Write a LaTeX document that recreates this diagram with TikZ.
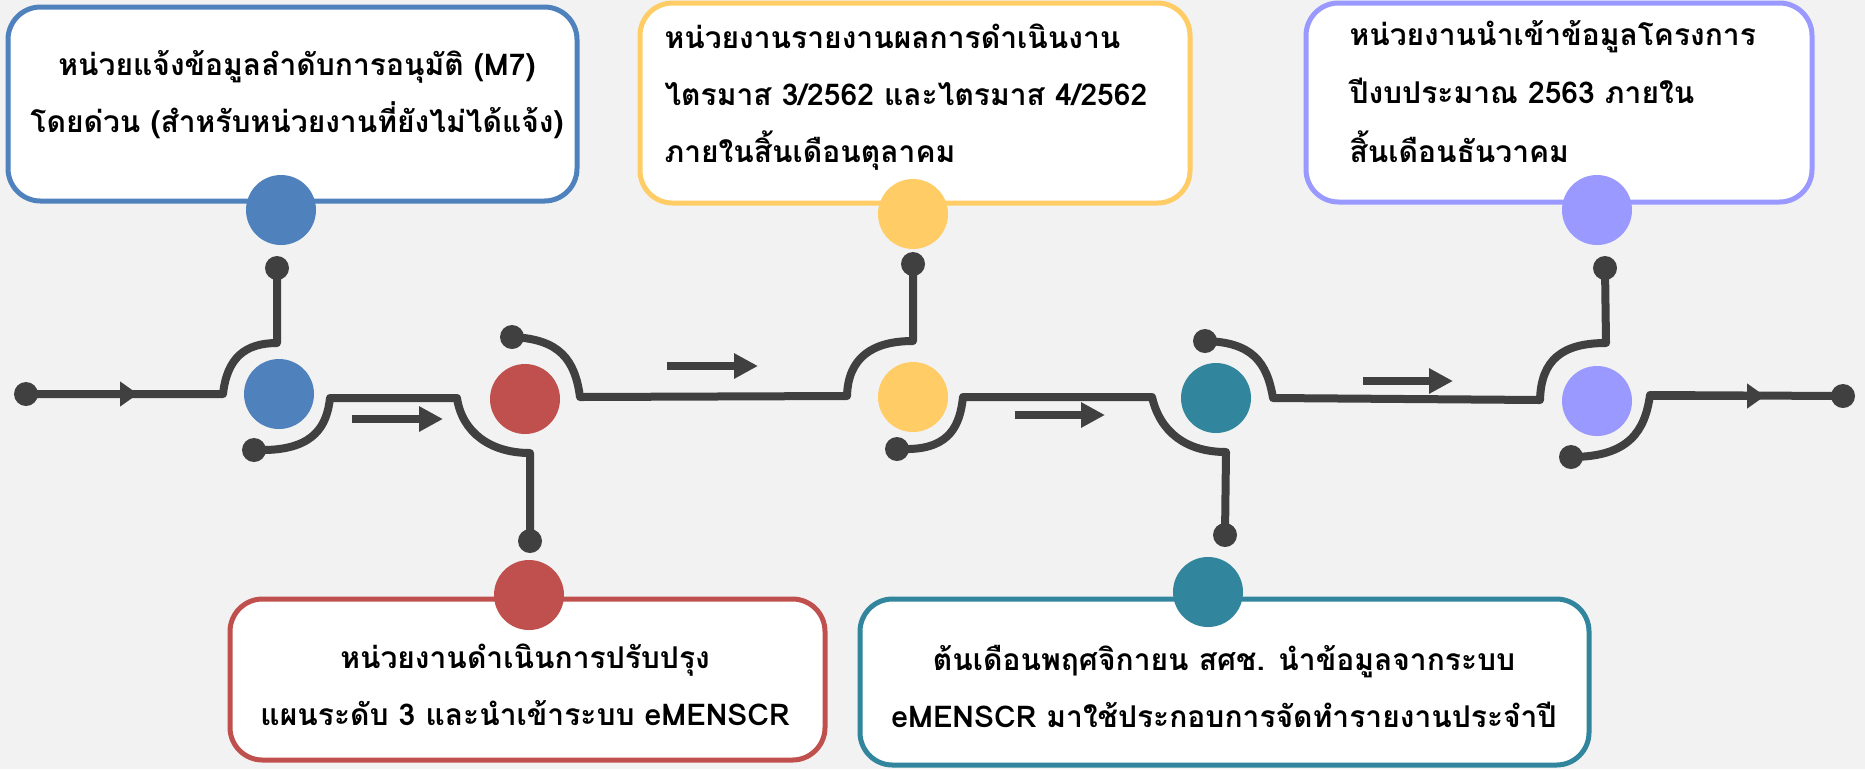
\documentclass[tikz,border=0pt]{standalone}
\usepackage{fontspec}
\newfontfamily\thaifont[Script=Thai]{Loma}
\usetikzlibrary{arrows.meta}
\definecolor{bgc}{HTML}{F2F2F2}
\definecolor{cblue}{HTML}{4F81BD}
\definecolor{cred}{HTML}{C0504D}
\definecolor{cyellow}{HTML}{FFCC66}
\definecolor{cteal}{HTML}{31859C}
\definecolor{cpurple}{HTML}{9999FF}
\definecolor{dark}{HTML}{404040}
\begin{document}
\begin{tikzpicture}[x=0.4pt,y=-0.4pt,
  track/.style={draw=dark,line width=3.2pt,line join=round},
  dotn/.style={circle,fill=dark,inner sep=0pt,minimum size=9.6pt},
  bign/.style={circle,inner sep=0pt,minimum size=28pt},
  boxs/.style={line width=2pt,fill=white,rounded corners=13pt},
  txt/.style={font=\thaifont\bfseries\fontsize{12pt}{14pt}\selectfont,inner sep=0pt,anchor=base},
  ltxt/.style={txt,anchor=base west},
  headtip/.style={-{Triangle[length=7.2pt,width=9.6pt]}},
  bigtip/.style={-{Triangle[length=9.6pt,width=9.6pt]}}]
\useasboundingbox (0,0) rectangle (1865,769);
\fill[bgc] (0,0) rectangle (1865,769);
% boxes
\draw[boxs,draw=cblue] (8,7) rectangle (577,201);
\draw[boxs,draw=cyellow] (640,3) rectangle (1190,203);
\draw[boxs,draw=cpurple] (1306,3) rectangle (1812,202);
\draw[boxs,draw=cred] (230,599) rectangle (825,760);
\draw[boxs,draw=cteal] (860,599) rectangle (1589,765);
% texts
\node[txt] (t1) at (297,75) {หน่วยแจ้งข้อมูลลำดับการอนุมัติ (M7)};
\node[txt] (t2) at (297,132) {โดยด่วน (สำหรับหน่วยงานที่ยังไม่ได้แจ้ง)};
\node[ltxt] (t3) at (664,48) {หน่วยงานรายงานผลการดำเนินงาน};
\node[ltxt] (t4) at (664,105) {ไตรมาส 3/2562 และไตรมาส 4/2562};
\node[ltxt] (t5) at (664,162) {ภายในสิ้นเดือนตุลาคม};
\node[ltxt] (t6) at (1349,45) {หน่วยงานนำเข้าข้อมูลโครงการ};
\node[ltxt] (t7) at (1349,103) {ปีงบประมาณ 2563 ภายใน};
\node[ltxt] (t8) at (1349,162) {สิ้นเดือนธันวาคม};
\node[txt] (t9) at (525,668) {หน่วยงานดำเนินการปรับปรุง};
\node[txt] (t10) at (525,725) {แผนระดับ 3 และนำเข้าระบบ eMENSCR};
\node[txt] (t11) at (1224,670) {ต้นเดือนพฤศจิกายน สศช. นำข้อมูลจากระบบ};
\node[txt] (t12) at (1224,727) {eMENSCR มาใช้ประกอบการจัดทำรายงานประจำปี};
% big circles
\node[bign,fill=cblue] (c1) at (281,210) {};
\node[bign,fill=cblue] (c2) at (279,394) {};
\node[bign,fill=cred] (c3) at (525,399) {};
\node[bign,fill=cred] (c4) at (529,595) {};
\node[bign,fill=cyellow] (c5) at (913,214) {};
\node[bign,fill=cyellow] (c6) at (913,397) {};
\node[bign,fill=cteal] (c7) at (1216,398) {};
\node[bign,fill=cteal] (c8) at (1208,592) {};
\node[bign,fill=cpurple] (c9) at (1597,210) {};
\node[bign,fill=cpurple] (c10) at (1597,401) {};
% dots
\node[dotn] (d1) at (26,394) {};
\node[dotn] (d2) at (277,268) {};
\node[dotn] (d3) at (254,450) {};
\node[dotn] (d4) at (530,541) {};
\node[dotn] (d5) at (512,337) {};
\node[dotn] (d6) at (913,264) {};
\node[dotn] (d7) at (897,449) {};
\node[dotn] (d8) at (1225,535) {};
\node[dotn] (d9) at (1205,341) {};
\node[dotn] (d10) at (1605,268) {};
\node[dotn] (d11) at (1571,457) {};
\node[dotn] (d12) at (1843,396) {};
% tracks
\draw[track] (d1.center) -- (223,394) .. controls (227,358) and (245,343) .. (277,343) -- (d2.center);
\draw[track] (d3.center) -- (265,450) .. controls (315,449) and (327,425) .. (330,398) -- (457,398) .. controls (462,432) and (490,453) .. (530,453) -- (d4.center);
\draw[track] (d5.center) .. controls (560,339) and (575,360) .. (580,397) -- (847,396) .. controls (848,358) and (872,341) .. (913,341) -- (d6.center);
\draw[track] (d7.center) -- (909,449) .. controls (950,448) and (960,425) .. (963,397) -- (1152,397) .. controls (1160,432) and (1186,452) .. (1226,452) -- (d8.center);
\draw[track] (d9.center) .. controls (1252,342) and (1267,362) .. (1273,398) -- (1540,400) .. controls (1541,360) and (1562,343) .. (1606,343) -- (d10.center);
\draw[track] (d11.center) .. controls (1630,457) and (1645,430) .. (1650,395) -- (d12.center);
% arrow tips on the line
\coordinate (h1) at (138,394);
\coordinate (h2) at (1765,396);
\draw[track,headtip] (d1.center) -- (h1);
\draw[track,headtip] (1650,396) -- (h2);
% separate arrows
\coordinate (a1s) at (352,419); \coordinate (a1e) at (443,419);
\coordinate (a2s) at (667,366); \coordinate (a2e) at (758,366);
\coordinate (a3s) at (1015,415); \coordinate (a3e) at (1105,415);
\coordinate (a4s) at (1363,381); \coordinate (a4e) at (1453,381);
\draw[track,bigtip] (a1s) -- (a1e);
\draw[track,bigtip] (a2s) -- (a2e);
\draw[track,bigtip] (a3s) -- (a3e);
\draw[track,bigtip] (a4s) -- (a4e);
\end{tikzpicture}
\end{document}
